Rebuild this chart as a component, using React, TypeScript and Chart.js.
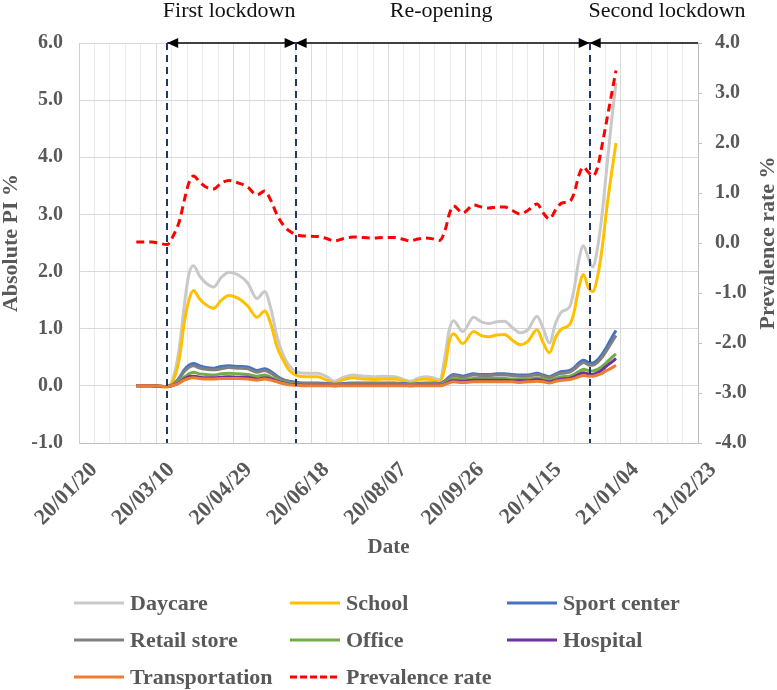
import React, { useEffect, useRef } from 'react';
import { Chart, registerables } from 'chart.js';
Chart.register(...registerables);

// Days since 2020-01-20
const days = [37, 47, 57, 61, 65, 68, 71, 74, 78, 82,
  87, 92, 97, 103, 109, 115, 120, 124, 128, 132,
  136, 141, 147, 154, 160, 165, 171, 177, 184, 190,
  197, 204, 210, 214, 219, 224, 229, 233, 237, 239,
  242, 248, 255, 260, 265, 270, 275, 280, 285, 290,
  296, 300, 304, 308, 312, 317, 320, 323, 326, 329,
  332, 335, 338, 341, 344, 347];

const daycare = [0, 0, -0.02, 0.15, 0.7, 1.4, 1.95, 2.1, 1.92, 1.8,
  1.73, 1.9, 1.99, 1.94, 1.8, 1.53, 1.65, 1.35, 0.86, 0.54,
  0.35, 0.24, 0.22, 0.22, 0.16, 0.08, 0.15, 0.19, 0.17, 0.16,
  0.17, 0.16, 0.11, 0.08, 0.13, 0.16, 0.14, 0.11, 0.6, 0.95,
  1.14, 0.95, 1.2, 1.12, 1.09, 1.12, 1.13, 1.02, 0.93, 0.98,
  1.22, 1.0, 0.75, 1.1, 1.3, 1.38, 1.7, 2.2, 2.45, 2.25,
  2.08, 2.4, 3.0, 3.8, 4.6, 5.3];

const school = [0, 0, -0.02, 0.1, 0.5, 1.1, 1.5, 1.67, 1.52, 1.42,
  1.36, 1.5, 1.58, 1.53, 1.4, 1.2, 1.31, 1.08, 0.68, 0.45,
  0.27, 0.18, 0.16, 0.16, 0.1, 0.05, 0.11, 0.14, 0.12, 0.11,
  0.12, 0.12, 0.08, 0.05, 0.1, 0.12, 0.1, 0.07, 0.4, 0.75,
  0.91, 0.74, 0.95, 0.88, 0.86, 0.89, 0.9, 0.8, 0.72, 0.78,
  0.98, 0.75, 0.58, 0.85, 1.0, 1.07, 1.3, 1.72, 1.95, 1.73,
  1.65, 1.9, 2.4, 3.1, 3.7, 4.25];

const sportCenter = [0, 0, -0.01, 0.03, 0.15, 0.28, 0.36, 0.39, 0.35, 0.32,
  0.31, 0.34, 0.35, 0.34, 0.33, 0.27, 0.3, 0.25, 0.17, 0.11,
  0.08, 0.06, 0.05, 0.05, 0.04, 0.03, 0.04, 0.05, 0.05, 0.05,
  0.05, 0.05, 0.04, 0.03, 0.04, 0.05, 0.05, 0.04, 0.1, 0.15,
  0.2, 0.17, 0.21, 0.2, 0.2, 0.21, 0.21, 0.2, 0.19, 0.19,
  0.22, 0.19, 0.16, 0.21, 0.25, 0.27, 0.32, 0.4, 0.45, 0.41,
  0.4, 0.45, 0.55, 0.68, 0.83, 0.97];

const retailStore = [0, 0, -0.01, 0.03, 0.13, 0.25, 0.32, 0.35, 0.31, 0.29,
  0.28, 0.3, 0.32, 0.31, 0.3, 0.24, 0.27, 0.22, 0.15, 0.1,
  0.07, 0.05, 0.04, 0.04, 0.03, 0.02, 0.03, 0.04, 0.04, 0.04,
  0.04, 0.04, 0.03, 0.02, 0.03, 0.04, 0.04, 0.03, 0.09, 0.13,
  0.18, 0.15, 0.19, 0.18, 0.18, 0.19, 0.19, 0.18, 0.17, 0.17,
  0.2, 0.17, 0.14, 0.19, 0.22, 0.24, 0.29, 0.36, 0.41, 0.37,
  0.36, 0.41, 0.5, 0.62, 0.75, 0.88];

const office = [0, 0, -0.01, 0.02, 0.08, 0.15, 0.21, 0.24, 0.21, 0.2,
  0.19, 0.21, 0.22, 0.21, 0.2, 0.17, 0.19, 0.15, 0.1, 0.07,
  0.05, 0.03, 0.02, 0.02, 0.02, 0.01, 0.02, 0.02, 0.02, 0.02,
  0.02, 0.02, 0.02, 0.01, 0.02, 0.02, 0.02, 0.02, 0.06, 0.09,
  0.13, 0.11, 0.13, 0.13, 0.13, 0.13, 0.13, 0.12, 0.12, 0.12,
  0.14, 0.12, 0.1, 0.13, 0.16, 0.17, 0.2, 0.25, 0.29, 0.27,
  0.26, 0.29, 0.34, 0.41, 0.49, 0.56];

const hospital = [0, 0, -0.01, 0.01, 0.06, 0.12, 0.16, 0.17, 0.15, 0.14,
  0.14, 0.15, 0.16, 0.15, 0.15, 0.12, 0.14, 0.12, 0.08, 0.05,
  0.03, 0.02, 0.01, 0.01, 0.01, 0.0, 0.01, 0.01, 0.01, 0.01,
  0.01, 0.01, 0.01, 0.0, 0.01, 0.01, 0.01, 0.01, 0.04, 0.07,
  0.09, 0.08, 0.1, 0.1, 0.1, 0.1, 0.1, 0.09, 0.09, 0.09,
  0.11, 0.09, 0.07, 0.1, 0.12, 0.13, 0.16, 0.2, 0.23, 0.21,
  0.2, 0.23, 0.28, 0.35, 0.41, 0.48];

const transportation = [0, 0, -0.01, 0.01, 0.05, 0.1, 0.13, 0.14, 0.13, 0.12,
  0.12, 0.13, 0.13, 0.13, 0.12, 0.1, 0.12, 0.1, 0.07, 0.04,
  0.02, 0.01, 0, 0, 0, 0, 0, 0, 0, 0,
  0, 0, 0, 0, 0, 0, 0, 0, 0.03, 0.05,
  0.07, 0.06, 0.07, 0.07, 0.07, 0.07, 0.07, 0.07, 0.06, 0.07,
  0.08, 0.07, 0.05, 0.08, 0.1, 0.11, 0.13, 0.16, 0.18, 0.17,
  0.17, 0.19, 0.22, 0.27, 0.31, 0.36];

const prevalence = [0.02, 0.02, -0.03, 0.15, 0.45, 0.85, 1.2, 1.34, 1.22, 1.12,
  1.08, 1.2, 1.25, 1.2, 1.12, 0.96, 1.04, 0.85, 0.56, 0.36,
  0.24, 0.16, 0.14, 0.13, 0.09, 0.04, 0.09, 0.12, 0.11, 0.1,
  0.11, 0.11, 0.07, 0.04, 0.08, 0.1, 0.08, 0.05, 0.3, 0.55,
  0.74, 0.6, 0.76, 0.72, 0.7, 0.72, 0.72, 0.65, 0.58, 0.65,
  0.78, 0.6, 0.48, 0.66, 0.8, 0.83, 1.0, 1.35, 1.52, 1.42,
  1.34, 1.5, 1.95, 2.45, 2.95, 3.45];

const xTickLabels = ['20/01/20', '20/03/10', '20/04/29', '20/06/18', '20/08/07', '20/09/26', '20/11/15', '21/01/04', '21/02/23'];
const phaseNames = ['First lockdown', 'Re-opening', 'Second lockdown'];
const phaseLabelDays = [97, 234, 380];
const phaseBoundaryDays = [57, 140, 330];

const FONT = "'Liberation Serif', 'Times New Roman', serif";
const GREY = '#595959';

export default function App() {
  const ref = useRef<HTMLCanvasElement>(null);

  useEffect(() => {
    if (!ref.current) return;
    const toPts = (arr: number[]) => arr.map((y, i) => ({ x: days[i], y }));
    const series = [
      { label: 'Daycare', data: daycare, color: '#C9C9C9', order: 7 },
      { label: 'School', data: school, color: '#FFC000', order: 6 },
      { label: 'Sport center', data: sportCenter, color: '#4472C4', order: 5 },
      { label: 'Retail store', data: retailStore, color: '#808080', order: 4 },
      { label: 'Office', data: office, color: '#70AD47', order: 3 },
      { label: 'Hospital', data: hospital, color: '#7030A0', order: 2 },
      { label: 'Transportation', data: transportation, color: '#ED7D31', order: 1 },
    ];
    const datasets: any[] = series.map((s) => ({
      label: s.label,
      data: toPts(s.data),
      borderColor: s.color,
      backgroundColor: s.color,
      borderWidth: 3,
      pointRadius: 0,
      cubicInterpolationMode: 'monotone',
      fill: false,
      order: s.order,
      yAxisID: 'y',
    }));
    datasets.push({
      label: 'Prevalence rate',
      data: toPts(prevalence),
      borderColor: '#FF0000',
      backgroundColor: '#FF0000',
      borderDash: [8, 5],
      borderWidth: 3,
      pointRadius: 0,
      cubicInterpolationMode: 'monotone',
      fill: false,
      order: 0,
      yAxisID: 'y1',
    });

    const overlay = {
      id: 'overlay',
      afterDraw(chart: any) {
        const ctx = chart.ctx as CanvasRenderingContext2D;
        const xs = chart.scales.x;
        const area = chart.chartArea;
        ctx.save();
        // phase boundaries
        ctx.strokeStyle = '#203864';
        ctx.lineWidth = 2;
        ctx.setLineDash([7, 5]);
        phaseBoundaryDays.forEach((d) => {
          const px = Math.round(xs.getPixelForValue(d));
          ctx.beginPath();
          ctx.moveTo(px, area.top);
          ctx.lineTo(px, area.bottom);
          ctx.stroke();
        });
        ctx.setLineDash([]);
        // top arrow line
        const b = phaseBoundaryDays.map((d) => xs.getPixelForValue(d));
        const ty = area.top;
        ctx.strokeStyle = '#404040';
        ctx.lineWidth = 2;
        ctx.beginPath();
        ctx.moveTo(b[0], ty);
        ctx.lineTo(area.right, ty);
        ctx.stroke();
        const tri = (tip: number, dir: number) => {
          ctx.beginPath();
          ctx.moveTo(tip, ty);
          ctx.lineTo(tip + dir * 11, ty - 5);
          ctx.lineTo(tip + dir * 11, ty + 5);
          ctx.closePath();
          ctx.fill();
        };
        ctx.fillStyle = '#000000';
        tri(b[0], 1);
        tri(b[1], -1);
        tri(b[1], 1);
        tri(b[2], -1);
        tri(b[2], 1);
        // phase labels
        ctx.font = `22px ${FONT}`;
        ctx.fillStyle = '#111111';
        ctx.textAlign = 'center';
        ctx.textBaseline = 'alphabetic';
        phaseNames.forEach((n, i) => {
          ctx.fillText(n, xs.getPixelForValue(phaseLabelDays[i]), 17);
        });
        // right axis title
        ctx.save();
        ctx.translate(768, (area.top + area.bottom) / 2);
        ctx.rotate(-Math.PI / 2);
        ctx.font = `bold 22px ${FONT}`;
        ctx.fillStyle = GREY;
        ctx.textAlign = 'center';
        ctx.textBaseline = 'middle';
        ctx.fillText('Prevalence rate %', 0, 0);
        ctx.restore();
        // legend
        const colX = [74, 290, 507];
        const rowY = [603, 640, 677];
        ctx.font = `bold 22px ${FONT}`;
        ctx.textAlign = 'left';
        ctx.textBaseline = 'middle';
        chart.data.datasets.forEach((ds: any, i: number) => {
          const cx = colX[i % 3];
          const cy = rowY[Math.floor(i / 3)];
          ctx.strokeStyle = ds.borderColor;
          ctx.lineWidth = 3;
          ctx.setLineDash(ds.borderDash ? [7, 3] : []);
          ctx.beginPath();
          ctx.moveTo(cx, cy);
          ctx.lineTo(cx + 50, cy);
          ctx.stroke();
          ctx.setLineDash([]);
          ctx.fillStyle = GREY;
          ctx.fillText(ds.label, cx + 56, cy + 1);
        });
        ctx.restore();
      },
    };

    const tickFont = { family: FONT, size: 20, weight: 'bold' as const };
    const chart = new Chart(ref.current, {
      type: 'line',
      data: { datasets },
      options: {
        responsive: false,
        animation: false,
        layout: { padding: { top: 43, bottom: 125, left: 0, right: 0 } },
        plugins: { legend: { display: false }, tooltip: { enabled: false } },
        scales: {
          x: {
            type: 'linear',
            min: 0,
            max: 400,
            ticks: {
              stepSize: 10,
              maxTicksLimit: 100,
              autoSkip: false,
              minRotation: 45,
              maxRotation: 45,
              padding: 14,
              labelOffset: 15,
              color: GREY,
              font: { family: FONT, size: 22, weight: 'bold' },
              callback: (v: any) => (Number(v) % 50 === 0 ? xTickLabels[Number(v) / 50] : ''),
            },
            grid: {
              drawTicks: false,
              color: (c: any) => (c.tick && c.tick.value % 50 === 0 ? '#d9d9d9' : '#ebebeb'),
              lineWidth: 1,
            },
            border: { color: '#bfbfbf', width: 1 },
            title: {
              display: true,
              text: 'Date',
              color: GREY,
              font: { family: FONT, size: 21, weight: 'bold', lineHeight: 1.2 },
              padding: { top: 0, bottom: 5 },
            },
            afterFit: (s: any) => { s.height = 122; },
          } as any,
          y: {
            type: 'linear',
            position: 'left',
            min: -1,
            max: 6,
            ticks: {
              stepSize: 1,
              padding: 16,
              color: GREY,
              font: tickFont,
              callback: (v: any) => Number(v).toFixed(1),
            },
            grid: { drawTicks: false, color: '#d9d9d9', lineWidth: 1 },
            border: { color: '#d0d0d0', width: 1 },
            title: {
              display: true,
              text: 'Absolute PI %',
              color: GREY,
              font: { family: FONT, size: 22, weight: 'bold', lineHeight: 1 },
              padding: 0,
            },
            afterFit: (s: any) => { s.width = 79; },
          } as any,
          y1: {
            type: 'linear',
            position: 'right',
            min: -4,
            max: 4,
            ticks: {
              stepSize: 1,
              padding: 13,
              color: GREY,
              font: tickFont,
              callback: (v: any) => Number(v).toFixed(1),
            },
            grid: { drawOnChartArea: false, drawTicks: true, tickLength: 4, tickColor: '#bfbfbf' },
            border: { color: '#bfbfbf', width: 1 },
            afterFit: (s: any) => { s.width = 79; },
          } as any,
        },
      },
      plugins: [overlay],
    });
    return () => chart.destroy();
  }, []);

  return (
    <div style={{ position: 'absolute', left: 0, top: 0, width: 777, height: 690, background: '#ffffff' }}>
      <canvas ref={ref} width={777} height={690} style={{ display: 'block' }} />
    </div>
  );
}
